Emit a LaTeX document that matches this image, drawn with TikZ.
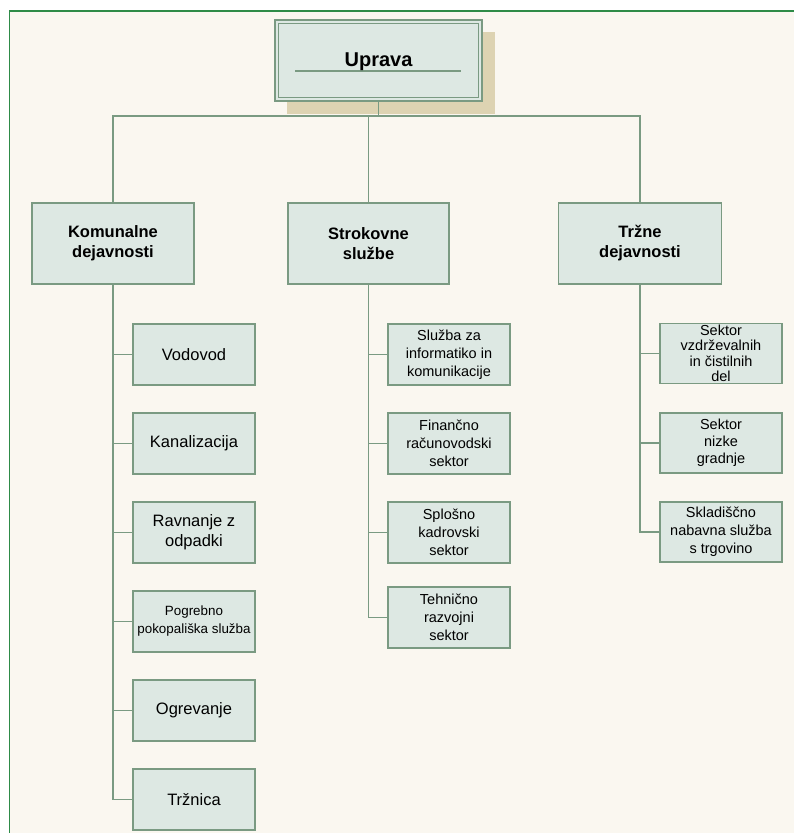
\documentclass[tikz,border=0pt]{standalone}
\usepackage{fontspec}
\setmainfont{Liberation Sans}
\definecolor{bgc}{HTML}{FAF7F0}
\definecolor{framec}{HTML}{2E8B47}
\definecolor{boxc}{HTML}{DDE8E3}
\definecolor{bordc}{HTML}{7A9A82}
\definecolor{shadc}{HTML}{DDD3B2}
\tikzset{
  x=1pt, y=-1pt,
  orgbox/.style={draw=bordc, fill=boxc, line width=1.2pt, rectangle, inner sep=0pt, align=center},
  topbox/.style={orgbox, minimum width=162pt, minimum height=81pt, font=\bfseries\fontsize{16.5}{20}\selectfont},
  kidbox/.style={orgbox, minimum width=122pt, minimum height=61pt, font=\fontsize{16.5}{20}\selectfont},
  skidbox/.style={kidbox, font=\fontsize{14.5}{18}\selectfont},
  tkidbox/.style={kidbox, minimum height=60pt, font=\fontsize{14.5}{15.5}\selectfont},
  conn/.style={draw=bordc, line width=1.5pt},
}
\begin{document}
\begin{tikzpicture}
\useasboundingbox (0,0) rectangle (794,833);
\fill[white] (0,0) rectangle (794,833);
\fill[bgc] (9,11) rectangle (794,833);
\draw[framec, line width=1.2pt] (794,11) -- (9.5,11) -- (9.5,833);

% Uprava
\fill[shadc] (287,32) rectangle (495,114);
\node[orgbox, minimum width=207pt, minimum height=81pt] (upr) at (378.5,60.5) {};
\draw[bordc, line width=0.9pt] (278.5,23.5) rectangle (478.5,97.5);
\draw[bordc, line width=1.1pt] (295,71) -- (461,71);
\node[font=\bfseries\fontsize{20}{24}\selectfont] (uprtxt) at (378.5,61.5) {Uprava};

% level 1
\node[topbox] (kom) at (113,243.5) {Komunalne\\dejavnosti};
\node[topbox, minimum width=161pt] (str) at (368.5,243.5) {Strokovne\\službe};
\node[topbox, minimum width=163pt] (trz) at (640,243.5) {Tržne\\dejavnosti};

\coordinate (busL) at (113,116);
\coordinate (busR) at (trz.north |- busL);
\draw[conn] (kom.north) -- (busL) -- (busR) -- (trz.north);
\draw[conn] (upr.south) -- (upr.south |- busL);
\draw[conn] (str.north) -- (str.north |- busL);

% Komunalne children
\node[kidbox] (k1) at (194,354.5) {Vodovod};
\node[kidbox] (k2) at (194,443.5) {Kanalizacija};
\node[kidbox] (k3) at (194,532.5) {Ravnanje z\\odpadki};
\node[kidbox, font=\fontsize{13.4}{18}\selectfont] (k4) at (194,621.5) {Pogrebno\\pokopališka služba};
\node[kidbox] (k5) at (194,710.5) {Ogrevanje};
\node[kidbox] (k6) at (194,799.5) {Tržnica};
\draw[conn] (kom.south) -- (kom.south |- k6.west) -- (k6.west);
\foreach \c in {k1,k2,k3,k4,k5}
  \draw[conn] (kom.south |- \c.west) -- (\c.west);

% Strokovne children
\node[skidbox] (s1) at (449,354.5) {Služba za\\informatiko in\\komunikacije};
\node[skidbox] (s2) at (449,443.5) {Finančno\\računovodski\\sektor};
\node[skidbox] (s3) at (449,532.5) {Splošno\\kadrovski\\sektor};
\node[skidbox] (s4) at (449,617.5) {Tehnično\\razvojni\\sektor};
\draw[conn] (str.south) -- (str.south |- s4.west) -- (s4.west);
\foreach \c in {s1,s2,s3}
  \draw[conn] (str.south |- \c.west) -- (\c.west);

% Trzne children
\node[tkidbox] (t1) at (721,353.5) {Sektor\\vzdrževalnih\\in čistilnih\\del};
\node[tkidbox, font=\fontsize{14.5}{17}\selectfont] (t2) at (721,443) {Sektor\\nizke\\gradnje};
\node[tkidbox, font=\fontsize{14.5}{18}\selectfont] (t3) at (721,532) {Skladiščno\\nabavna služba\\s trgovino};
\draw[conn] (trz.south) -- (trz.south |- t3.west) -- (t3.west);
\foreach \c in {t1,t2}
  \draw[conn] (trz.south |- \c.west) -- (\c.west);
\end{tikzpicture}
\end{document}
